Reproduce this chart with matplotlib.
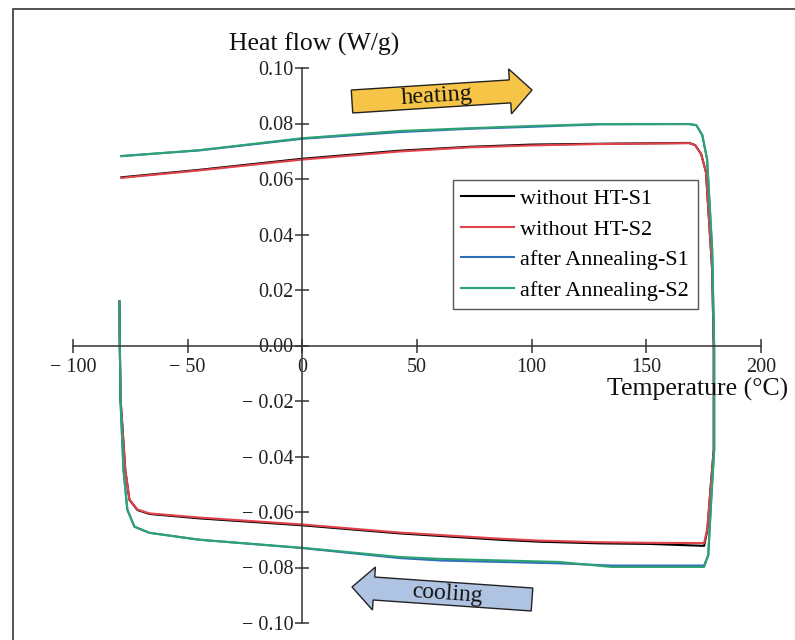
import matplotlib
matplotlib.use('Agg')

import matplotlib.pyplot as plt
from matplotlib.patches import Polygon, Rectangle
import numpy as np

W, H = 795, 640

# ---------------- data ----------------
# without HT (black / red)
t_noht = [-78.9, -44.9, 0.0, 42.3, 72.8, 99.8, 129.5, 168.7, 171.3, 173.9, 176.0, 178.7,
          179.4, 179.4, 178.3, 176.6, 175.2,
          151.3, 129.5, 103.3, 85.9, 42.3, 0.0, -44.9, -66.7, -71.9, -75.4, -77.2, -79.3, -79.8]
hf_s1_noht = [0.0606, 0.0633, 0.0673, 0.0702, 0.0716, 0.0724, 0.0727, 0.0730, 0.0722, 0.0690, 0.0625, 0.0274,
              -0.0014, -0.0375, -0.0484, -0.0664, -0.0722,
              -0.0715, -0.0713, -0.0707, -0.0700, -0.0677, -0.0648, -0.0623, -0.0607, -0.0593, -0.0556, -0.0448, -0.0188, 0.0159]
hf_s2_noht = [0.0604, 0.0631, 0.0670, 0.0699, 0.0714, 0.0721, 0.0726, 0.0729, 0.0722, 0.0690, 0.0625, 0.0274,
              -0.0014, -0.0375, -0.0484, -0.0660, -0.0712,
              -0.0711, -0.0709, -0.0703, -0.0696, -0.0674, -0.0645, -0.0620, -0.0605, -0.0591, -0.0555, -0.0448, -0.0188, 0.0159]

# after annealing (blue / green)
t_ann = [-78.9, -44.9, 0.0, 42.3, 72.8, 99.8, 129.5, 168.7, 171.8, 174.4, 176.5, 178.7,
         179.6, 179.6, 178.7, 177.0, 175.2,
         134.7, 112.0, 60.6, 42.3, 0.0, -44.9, -66.7, -73.2, -76.3, -78.0, -79.3, -79.8]
hf_s1_ann = [0.0683, 0.0703, 0.0745, 0.0769, 0.0781, 0.0788, 0.0797, 0.0798, 0.0794, 0.0758, 0.0671, 0.0347,
             -0.0014, -0.0375, -0.0495, -0.0755, -0.0793,
             -0.0793, -0.0785, -0.0775, -0.0766, -0.0730, -0.0700, -0.0675, -0.0653, -0.0592, -0.0448, -0.0195, 0.0159]
hf_s2_ann = [0.0682, 0.0704, 0.0747, 0.0773, 0.0783, 0.0791, 0.0798, 0.0798, 0.0794, 0.0758, 0.0671, 0.0347,
             -0.0014, -0.0375, -0.0495, -0.0755, -0.0798,
             -0.0798, -0.0780, -0.0769, -0.0762, -0.0729, -0.0700, -0.0675, -0.0653, -0.0592, -0.0448, -0.0195, 0.0159]

labels = ["without HT-S1", "without HT-S2", "after Annealing-S1", "after Annealing-S2"]
colors = ["#000000", "#E2434B", "#2F6EBA", "#2EA372"]

x_ticks = [-100, -50, 0, 50, 100, 150, 200]
x_ticklabels = ["\u2212 100", "\u2212 50", "0", "50", "100", "150", "200"]
y_ticks = [-0.10, -0.08, -0.06, -0.04, -0.02, 0.00, 0.02, 0.04, 0.06, 0.08, 0.10]
y_ticklabels = ["\u2212 0.10", "\u2212 0.08", "\u2212 0.06", "\u2212 0.04", "\u2212 0.02",
                "0.00", "0.02", "0.04", "0.06", "0.08", "0.10"]

plt.rcParams['font.family'] = ['Liberation Serif', 'DejaVu Serif']


def fx(x):
    return x / W


def fy(y):
    return 1 - y / H


fig = plt.figure(figsize=(W / 100, H / 100), dpi=100, facecolor='white')
ax = fig.add_axes([fx(73), fy(623), (761 - 73) / W, (623 - 68) / H])
ax.set_facecolor('none')

ax.plot(t_noht, hf_s1_noht, color=colors[0], lw=1.5, label=labels[0])
ax.plot(t_noht, hf_s2_noht, color=colors[1], lw=1.5, label=labels[1])
ax.plot(t_ann, hf_s1_ann, color=colors[2], lw=1.5, label=labels[2])
ax.plot(t_ann, hf_s2_ann, color=colors[3], lw=1.5, label=labels[3])

ax.set_xlim(-100, 200)
ax.set_ylim(-0.10, 0.10)

for side in ['top', 'right']:
    ax.spines[side].set_visible(False)
ax.spines['left'].set_position(('data', 0))
ax.spines['bottom'].set_position(('data', 0))
for side in ['left', 'bottom']:
    ax.spines[side].set_color('#333333')
    ax.spines[side].set_linewidth(1.1)

ax.set_xticks(x_ticks)
ax.set_xticklabels(x_ticklabels)
ax.set_yticks(y_ticks)
ax.set_yticklabels(y_ticklabels)
ax.tick_params(axis='both', direction='inout', length=10, width=1.1, color='#333333',
               labelsize=14.5, labelcolor='#222222')
ax.tick_params(axis='x', pad=4)
ax.tick_params(axis='y', pad=1.5)

# axis titles
fig.text(fx(314), fy(44), "Heat flow (W/g)", fontsize=18.5, ha='center', va='center', color='#111111')
fig.text(fx(698), fy(389), "Temperature (\u00b0C)", fontsize=18.5, ha='center', va='center', color='#111111')

leg = ax.legend(loc='upper left', bbox_to_anchor=(fx(453), fy(180)), bbox_transform=fig.transFigure,
                borderaxespad=0, fontsize=16, frameon=True, fancybox=False, framealpha=1,
                handlelength=2.35, handletextpad=0.3, labelspacing=0.45, borderpad=0.38)
leg.get_frame().set_edgecolor('#555555')
leg.get_frame().set_linewidth(1.0)


def arrow_poly(tip, tail, body_hw, head_hw, head_len):
    tip = np.array(tip, float)
    tail = np.array(tail, float)
    d = tip - tail
    L = np.hypot(*d)
    u = d / L
    n = np.array([-u[1], u[0]])
    base = tip - u * head_len
    pts = [tail + n * body_hw, base + n * body_hw, base + n * head_hw, tip,
           base - n * head_hw, base - n * body_hw, tail - n * body_hw]
    return [(fx(p[0]), fy(p[1])) for p in pts]


heat = Polygon(arrow_poly((532, 90), (352, 101.5), 11.5, 22.5, 22), closed=True,
               transform=fig.transFigure, facecolor='#F6C446', edgecolor='#222222', lw=1.0)
cool = Polygon(arrow_poly((352, 587), (532, 599.5), 11.5, 21.5, 22), closed=True,
               transform=fig.transFigure, facecolor='#AFC3E3', edgecolor='#222222', lw=1.0)
fig.patches.extend([heat, cool])
fig.text(fx(437), fy(96), "heating", fontsize=17.5, ha='center', va='center', rotation=3.7, color='#111111')
fig.text(fx(447), fy(594), "cooling", fontsize=17, ha='center', va='center', rotation=-4.0, color='#111111')

# frame around the whole picture
fig.patches.append(Rectangle((fx(13), -0.05), 1.2, fy(9) + 0.05, transform=fig.transFigure,
                             fill=False, edgecolor='#444444', lw=1.3))

fig.savefig('out.png', dpi=100, facecolor='white')
